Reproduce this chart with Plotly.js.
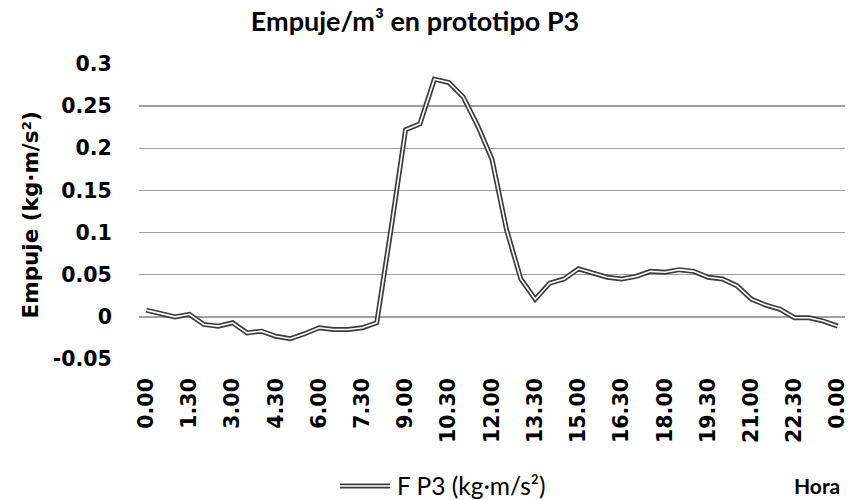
<!DOCTYPE html>
<html>
<head>
<meta charset="utf-8">
<script src="https://cdn.plot.ly/plotly-3.0.1.min.js"></script>
<style>html,body{margin:0;padding:0;background:#fff;}#chart{width:860px;height:500px;}</style>
</head>
<body>
<div id="chart"></div>
<script>
const hours = ["0.00","0.30","1.00","1.30","2.00","2.30","3.00","3.30","4.00","4.30","5.00","5.30",
  "6.00","6.30","7.00","7.30","8.00","8.30","9.00","9.30","10.00","10.30","11.00","11.30",
  "12.00","12.30","13.00","13.30","14.00","14.30","15.00","15.30","16.00","16.30","17.00","17.30",
  "18.00","18.30","19.00","19.30","20.00","20.30","21.00","21.30","22.00","22.30","23.00","23.30","0.00"];
const empujeP3 = [0.008,0.004,0.000,0.003,-0.009,-0.011,-0.007,-0.019,-0.017,-0.023,-0.026,-0.020,
  -0.013,-0.015,-0.015,-0.013,-0.007,0.105,0.222,0.229,0.282,0.278,0.261,0.227,
  0.187,0.104,0.045,0.021,0.040,0.045,0.057,0.052,0.047,0.045,0.048,0.054,
  0.053,0.056,0.054,0.047,0.045,0.037,0.021,0.014,0.009,-0.001,-0.001,-0.005,-0.011];
const yTicks = [-0.05,0,0.05,0.1,0.15,0.2,0.25,0.3];
const yTickText = ["-0.05","0","0.05","0.1","0.15","0.2","0.25","0.3"];
const seriesName = "F P3 (kg·m/s²)";
const yTitle = "Empuje (kg·m/s²)";
const xTitle = "Hora";

const idx = hours.map((h,i)=>i);
const tickIdx = idx.filter(i => i % 3 === 0);
const tickLbl = tickIdx.map(i => hours[i]);

const tickFont = {family:"DejaVu Sans", size:20.5, color:"#000", weight:"bold"};
const calib = "Lato";
const outerCol = "#3c3c3c";

const traces = [
  {x: idx, y: empujeP3, type:"scatter", mode:"lines", name: seriesName,
   line:{color:outerCol, width:5}, showlegend:false, hoverinfo:"y"},
  {x: idx, y: empujeP3, type:"scatter", mode:"lines", name: seriesName + " ",
   line:{color:"#ffffff", width:1.6}, showlegend:false, hoverinfo:"skip"}
];

const legY = -0.4305;
const layout = {
  width:860, height:500,
  margin:{l:139, r:15, t:64, b:141},
  paper_bgcolor:"#fff", plot_bgcolor:"#fff",
  title:{text:"Empuje/m³ en prototipo P3", x:0.4826, xanchor:"center", xref:"container",
         y:0.957, yanchor:"middle", yref:"container",
         font:{family:calib, size:27, color:"#000", weight:"bold"}},
  xaxis:{range:[-0.5,48.5], tickmode:"array", tickvals:tickIdx, ticktext:tickLbl,
         tickangle:-90, tickfont:tickFont, showgrid:false, zeroline:false,
         showline:false, ticks:"", ticklabelstandoff:14, fixedrange:true, automargin:false},
  yaxis:{range:[-0.05,0.3], tickmode:"array", tickvals:yTicks, ticktext:yTickText,
         tickfont:tickFont, showgrid:true, gridcolor:"#a0a0a0", gridwidth:1.3,
         zeroline:false, showline:false, ticks:"outside", ticklen:22, tickcolor:"#ffffff",
         fixedrange:true, automargin:false},
  showlegend:false,
  shapes:[
    {type:"line", xref:"paper", yref:"paper", x0:0.2847, x1:0.3555, y0:legY, y1:legY,
     line:{color:outerCol, width:5}},
    {type:"line", xref:"paper", yref:"paper", x0:0.2847, x1:0.3555, y0:legY, y1:legY,
     line:{color:"#ffffff", width:1.6}}
  ],
  annotations:[
    {text:yTitle, xref:"paper", yref:"paper", x:-0.1544, xanchor:"center", y:0.49, yanchor:"middle",
     textangle:-90, showarrow:false,
     font:{family:"DejaVu Sans", size:21.5, color:"#000", weight:"bold"}},
    {text:seriesName, xref:"paper", yref:"paper", x:0.3626, xanchor:"left", y:legY, yanchor:"middle",
     showarrow:false, font:{family:calib, size:24.5, color:"#000"}},
    {text:xTitle, xref:"paper", yref:"paper", x:0.9958, xanchor:"right", y:legY, yanchor:"middle",
     showarrow:false, font:{family:calib, size:21, color:"#000", weight:"bold"}}
  ]
};

Plotly.newPlot("chart", traces, layout, {displayModeBar:false, staticPlot:true});
</script>
</body>
</html>
